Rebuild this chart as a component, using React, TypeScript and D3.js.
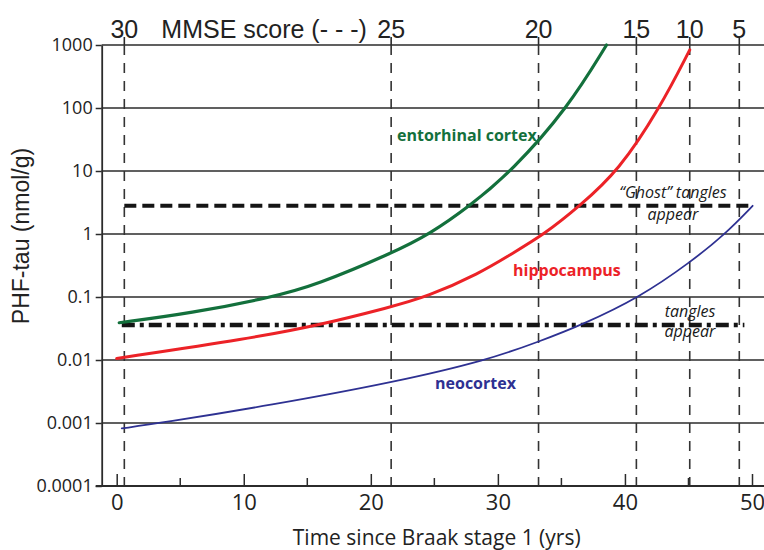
import React, { useRef, useEffect } from 'react';
import * as d3 from 'd3';

// curves (years since Braak stage 1, PHF-tau nmol/g)
const entorhinalYears = [0.2, 5.8, 12.3, 15.7, 21.6, 24.65, 27.8, 31.1, 35.5, 38.55];
const entorhinalVals = [0.039, 0.055, 0.1, 0.155, 0.49, 1.0, 2.8, 10, 100, 1000];

const hippoYears = [0, 10.5, 16, 21.5, 24.4, 28.6, 30.9, 33.7, 36.45, 39.5, 42.75, 45.1];
const hippoVals = [0.0106, 0.022, 0.036, 0.069, 0.1, 0.24, 0.46, 1, 2.8, 10, 100, 835];

const neoYears = [0.4, 3.5, 12, 22, 29.2, 33.2, 36.6, 41.2, 45.1, 47.9, 50.05];
const neoVals = [0.00082, 0.001, 0.0019, 0.0045, 0.01, 0.0195, 0.036, 0.1, 0.35, 1, 2.8];

// MMSE score markers on the top axis
const mmseScores = ['30', '25', '20', '15', '10', '5'];
const mmseYears = [0.6, 21.6, 33.2, 40.9, 45.1, 49.0];

// tick labels
const yTicks = [1000, 100, 10, 1, 0.1, 0.01, 0.001, 0.0001];
const yTickLabels = ['1000', '100', '10', '1', '0.1', '0.01', '0.001', '0.0001'];
const xTicks = [0, 10, 20, 30, 40, 50];
const xMinorTicks = [5, 15, 25, 35, 45];

// threshold lines
const ghostLevel = 2.8;
const ghostSpan = [0.6, 50.1];
const tanglesLevel = 0.036;
const tanglesSpan = [0.4, 49.4];

const App = () => {
  const ref = useRef(null);
  const width = 764;
  const height = 550;

  useEffect(() => {
    const svg = d3.select(ref.current);
    svg.selectAll('*').remove();

    const x = d3.scaleLinear().domain([0, 50]).range([116.7, 752]);
    const y = d3.scaleLog().domain([0.0001, 1000]).range([486, 45]);
    const axisX = 101.7;
    const right = width;
    const top = y(1000);
    const bottom = y(0.0001);

    const ink = '#2b2b2b';

    // horizontal grid lines
    svg.append('g')
      .selectAll('line')
      .data(yTicks.filter(v => v !== 0.0001))
      .join('line')
      .attr('x1', axisX).attr('x2', right)
      .attr('y1', d => y(d)).attr('y2', d => y(d))
      .attr('stroke', ink)
      .attr('stroke-width', 1.5);

    // MMSE dashed verticals + top ticks
    const mm = svg.append('g');
    mm.selectAll('line.dash')
      .data(mmseYears)
      .join('line')
      .attr('class', 'dash')
      .attr('x1', d => x(d)).attr('x2', d => x(d))
      .attr('y1', top).attr('y2', bottom)
      .attr('stroke', '#333')
      .attr('stroke-width', 1.6)
      .attr('stroke-dasharray', '10,8');
    mm.selectAll('line.tick')
      .data(mmseYears)
      .join('line')
      .attr('class', 'tick')
      .attr('x1', d => x(d)).attr('x2', d => x(d))
      .attr('y1', top - 8).attr('y2', top)
      .attr('stroke', ink)
      .attr('stroke-width', 1.6);
    mm.selectAll('text')
      .data(mmseYears)
      .join('text')
      .attr('x', d => x(d))
      .attr('y', 38)
      .attr('text-anchor', 'middle')
      .style('font-family', '"Liberation Sans", Arial, sans-serif')
      .style('font-size', '25px')
      .attr('fill', '#222')
      .text((d, i) => mmseScores[i]);
    mm.append('text')
      .attr('x', x(mmseYears[0]) + 37)
      .attr('y', 38)
      .style('font-family', '"Liberation Sans", Arial, sans-serif')
      .style('font-size', '25px')
      .attr('fill', '#222')
      .text('MMSE score (- - -)');

    // threshold lines
    svg.append('line')
      .attr('x1', x(ghostSpan[0])).attr('x2', x(ghostSpan[1]))
      .attr('y1', y(ghostLevel)).attr('y2', y(ghostLevel))
      .attr('stroke', '#151515')
      .attr('stroke-width', 4)
      .attr('stroke-dasharray', '12,6');
    svg.append('line')
      .attr('x1', x(tanglesSpan[0])).attr('x2', x(tanglesSpan[1]))
      .attr('y1', y(tanglesLevel)).attr('y2', y(tanglesLevel))
      .attr('stroke', '#151515')
      .attr('stroke-width', 4.5)
      .attr('stroke-dasharray', '13,5,4,5');

    // curves (B-spline through the read points, smooths reading noise)
    const line = d3.line()
      .x(d => x(d[0]))
      .y(d => y(d[1]))
      .curve(d3.curveBasis);

    const series = [
      { years: neoYears, vals: neoVals, color: '#2e3192', w: 1.8 },
      { years: hippoYears, vals: hippoVals, color: '#ec2227', w: 3 },
      { years: entorhinalYears, vals: entorhinalVals, color: '#13703c', w: 3.2 },
    ];
    series.forEach(s => {
      svg.append('path')
        .datum(s.years.map((t, i) => [t, s.vals[i]]))
        .attr('d', line)
        .attr('fill', 'none')
        .attr('stroke', s.color)
        .attr('stroke-width', s.w)
        .attr('stroke-linecap', 'round');
    });

    // curve labels
    const bold = (txt, px, py, color) =>
      svg.append('text')
        .attr('x', px).attr('y', py)
        .style('font-family', '"Open Sans", sans-serif')
        .style('font-weight', 'bold')
        .style('font-size', '16px')
        .attr('fill', color)
        .text(txt);
    bold('entorhinal cortex', 397, 141, '#13703c');
    bold('hippocampus', 513, 276, '#ec2227');
    bold('neocortex', 435, 389, '#2e3192');

    const italic = (txt, px, py) =>
      svg.append('text')
        .attr('x', px).attr('y', py)
        .attr('text-anchor', 'middle')
        .style('font-family', '"Open Sans", sans-serif')
        .style('font-style', 'italic')
        .style('font-size', '16px')
        .attr('fill', '#1a1a1a')
        .text(txt);
    italic('\u201CGhost\u201D tangles', 673, 198);
    italic('appear', 673, 220);
    italic('tangles', 690, 317);
    italic('appear', 690, 337);

    // left axis
    const yAxis = svg.append('g')
      .attr('transform', `translate(${axisX},0)`)
      .call(d3.axisLeft(y)
        .tickValues(yTicks)
        .tickFormat((d, i) => yTickLabels[i])
        .tickSize(6)
        .tickSizeOuter(0)
        .tickPadding(3));
    yAxis.select('.domain').attr('stroke', ink).attr('stroke-width', 1.8);
    yAxis.selectAll('line').attr('stroke', ink).attr('stroke-width', 1.5);
    yAxis.selectAll('text')
      .style('font-family', '"Open Sans", sans-serif')
      .style('font-size', '18px')
      .attr('fill', '#222');

    // bottom axis
    svg.append('line')
      .attr('x1', axisX - 6).attr('x2', right)
      .attr('y1', bottom).attr('y2', bottom)
      .attr('stroke', ink)
      .attr('stroke-width', 1.8);
    const xAxis = svg.append('g')
      .attr('transform', `translate(0,${bottom})`)
      .call(d3.axisBottom(x)
        .tickValues(xTicks)
        .tickSize(-12)
        .tickSizeOuter(0)
        .tickPadding(8));
    xAxis.select('.domain').remove();
    xAxis.selectAll('line').attr('stroke', ink).attr('stroke-width', 1.5);
    xAxis.selectAll('text')
      .style('font-family', '"Open Sans", sans-serif')
      .style('font-size', '22px')
      .attr('fill', '#222');
    svg.append('g')
      .selectAll('line')
      .data(xMinorTicks)
      .join('line')
      .attr('x1', d => x(d)).attr('x2', d => x(d))
      .attr('y1', bottom - 8).attr('y2', bottom)
      .attr('stroke', ink)
      .attr('stroke-width', 1.5);

    // axis titles
    svg.append('text')
      .attr('x', 436.7).attr('y', 545)
      .attr('text-anchor', 'middle')
      .style('font-family', '"Open Sans", sans-serif')
      .style('font-size', '21px')
      .attr('fill', '#222')
      .text('Time since Braak stage 1 (yrs)');
    svg.append('text')
      .attr('transform', 'translate(29,236) rotate(-90)')
      .attr('text-anchor', 'middle')
      .style('font-family', '"Liberation Sans", Arial, sans-serif')
      .style('font-size', '23px')
      .attr('fill', '#222')
      .text('PHF-tau (nmol/g)');
  }, []);

  return (
    <svg
      ref={ref}
      width={width}
      height={height}
      style={{ position: 'absolute', left: 0, top: 0, background: '#fff' }}
    />
  );
};

export default App;
